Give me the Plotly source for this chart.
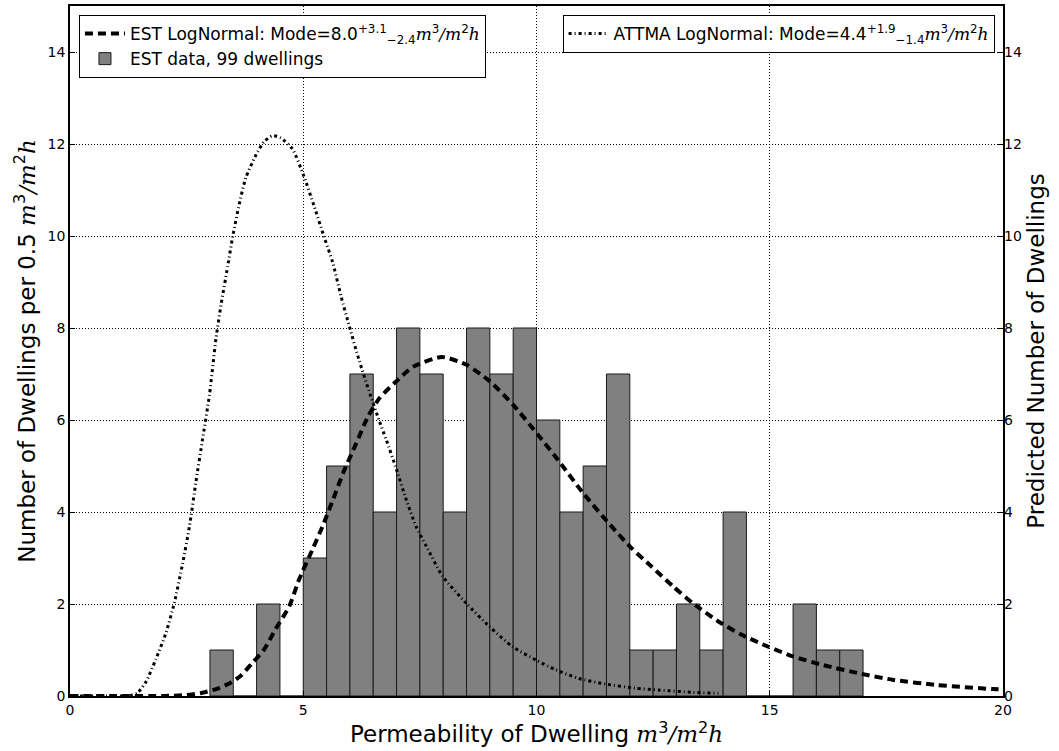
import plotly.graph_objects as go

# Histogram data (bin left edges, width 0.5)
bin_left = [3.0, 3.5, 4.0, 4.5, 5.0, 5.5, 6.0, 6.5, 7.0, 7.5, 8.0, 8.5, 9.0, 9.5,
            10.0, 10.5, 11.0, 11.5, 12.0, 12.5, 13.0, 13.5, 14.0, 14.5, 15.0, 15.5, 16.0, 16.5]
counts = [1, 0, 2, 0, 3, 5, 7, 4, 8, 7, 4, 8, 7, 8,
          6, 4, 5, 7, 1, 1, 2, 1, 4, 0, 0, 2, 1, 1]
bin_width = 0.5

# EST lognormal curve
est_x = [0, 1, 2, 2.5, 2.84, 3.13, 3.41, 3.66, 3.91, 4.16, 4.41, 4.7, 4.91, 5.2, 5.41, 5.63,
         5.88, 6.13, 6.38, 6.63, 6.95, 7.36, 7.97, 8.5, 9.0, 9.5, 10.04, 10.5, 11.0, 11.58,
         12.04, 12.47, 12.93, 13.36, 13.9, 14.4, 14.97, 15.5, 16.15, 16.93, 17.65, 18.58, 19.79, 20]
est_y = [0, 0, 0, 0.02, 0.07, 0.15, 0.27, 0.44, 0.72, 1.01, 1.46, 1.95, 2.53, 3.19, 3.68, 4.25,
         4.91, 5.48, 6.06, 6.47, 6.80, 7.16, 7.37, 7.2, 6.84, 6.33, 5.67, 5.08, 4.41, 3.72,
         3.21, 2.81, 2.38, 2.01, 1.62, 1.33, 1.07, 0.86, 0.67, 0.49, 0.35, 0.24, 0.15, 0.14]

# ATTMA lognormal curve
attma_x = [0, 1.0, 1.3, 1.45, 1.63, 1.84, 2.06, 2.24, 2.41, 2.56, 2.70, 2.84, 2.99, 3.13, 3.24,
           3.38, 3.49, 3.63, 3.77, 3.99, 4.16, 4.34, 4.52, 4.77, 5.01, 5.23, 5.44, 5.63, 5.81,
           5.99, 6.2, 6.41, 6.63, 6.78, 7.0, 7.21, 7.42, 7.64, 7.99, 8.49, 8.99, 9.49, 9.99,
           10.41, 10.91, 11.48, 12.12, 12.62, 13.34, 13.9]
attma_y = [0, 0, 0.01, 0.07, 0.31, 0.80, 1.38, 2.04, 2.86, 3.68, 4.66, 5.57, 6.55, 7.78, 8.52,
           9.34, 10.0, 10.70, 11.27, 11.77, 12.05, 12.18, 12.13, 11.89, 11.31, 10.66, 10.0, 9.43, 8.69,
           8.03, 7.29, 6.63, 5.98, 5.57, 4.92, 4.26, 3.68, 3.25, 2.60, 2.02, 1.51, 1.07, 0.78,
           0.57, 0.38, 0.26, 0.17, 0.13, 0.08, 0.06]

x_ticks = [0, 5, 10, 15, 20]
y_ticks = [0, 2, 4, 6, 8, 10, 12, 14]
x_ticklabels = [str(v) for v in x_ticks]
y_ticklabels = [str(v) for v in y_ticks]

MATH = 'font-family:\'DejaVu Serif\';font-style:italic'
def m(s):
    return f'<span style="{MATH}">{s}</span>'
UNIT = m('m') + '<sup>3</sup>' + m('/m') + '<sup>2</sup>' + m('h')

bin_centers = [b + bin_width / 2 for b in bin_left]

fig = go.Figure()

fig.add_trace(go.Scatter(
    x=est_x, y=est_y, mode='lines', yaxis='y2',
    line=dict(color='black', width=4, dash='8px,5px', shape='spline', smoothing=0.6),
    name='EST LogNormal: Mode=8.0<sup>+3.1</sup><sub>\u22122.4</sub>' + UNIT,
    legend='legend', legendrank=1,
))
fig.add_trace(go.Bar(
    x=bin_centers, y=counts, width=bin_width,
    marker=dict(color='#808080', line=dict(color='#1a1a1a', width=1)),
    name='EST data, 99 dwellings', legend='legend', legendrank=2,
))
fig.add_trace(go.Scatter(
    x=attma_x, y=attma_y, mode='lines', yaxis='y2',
    line=dict(color='black', width=3, dash='3px,3px,1px,3px', shape='spline', smoothing=0.6),
    name='ATTMA LogNormal: Mode=4.4<sup>+1.9</sup><sub>\u22121.4</sub>' + UNIT,
    legend='legend2',
))

tickfont = dict(family='DejaVu Sans', size=14, color='black')
axis_common = dict(
    showline=True, linecolor='black', linewidth=1.5, mirror=True,
    ticks='inside', ticklen=5, tickcolor='black',
    showgrid=True, gridcolor='black', griddash='1px,2px', gridwidth=1,
    zeroline=False, automargin=False,
    tickfont=tickfont,
)

fig.update_layout(
    width=1059, height=751,
    margin=dict(l=70, r=56, t=6, b=55),
    plot_bgcolor='white', paper_bgcolor='white',
    font=dict(family='DejaVu Sans', color='black', size=14),
    barmode='overlay',
    xaxis=dict(range=[0, 20], tickmode='array', tickvals=x_ticks, ticktext=x_ticklabels,
               title=dict(text='Permeability of Dwelling ' + UNIT,
                          font=dict(size=23, color='black'), standoff=2),
               **axis_common),
    yaxis=dict(range=[0, 15], tickmode='array', tickvals=y_ticks, ticktext=y_ticklabels,
               title=dict(text='Number of Dwellings per 0.5 ' + UNIT,
                          font=dict(size=23, color='black'), standoff=6),
               **axis_common),
    yaxis2=dict(range=[0, 15], tickmode='array', tickvals=y_ticks, ticktext=y_ticklabels,
                overlaying='y', side='right',
                showline=False, ticks='inside', ticklen=5, tickcolor='black',
                showgrid=False, zeroline=False, automargin=False,
                tickfont=tickfont,
                title=dict(text='Predicted Number of Dwellings',
                           font=dict(size=23, color='black'), standoff=6)),
    legend=dict(x=0.0096, y=0.987, xanchor='left', yanchor='top',
                bgcolor='white', bordercolor='black', borderwidth=1,
                font=dict(size=17, color='black'), tracegroupgap=0,
                itemwidth=40),
    legend2=dict(x=0.991, y=0.987, xanchor='right', yanchor='top',
                 bgcolor='white', bordercolor='black', borderwidth=1,
                 font=dict(size=17, color='black'), itemwidth=40),
)

fig.write_html('out.html', config={'displayModeBar': False},
               post_script="document.body.style.margin='0';document.body.style.overflow='hidden';")
